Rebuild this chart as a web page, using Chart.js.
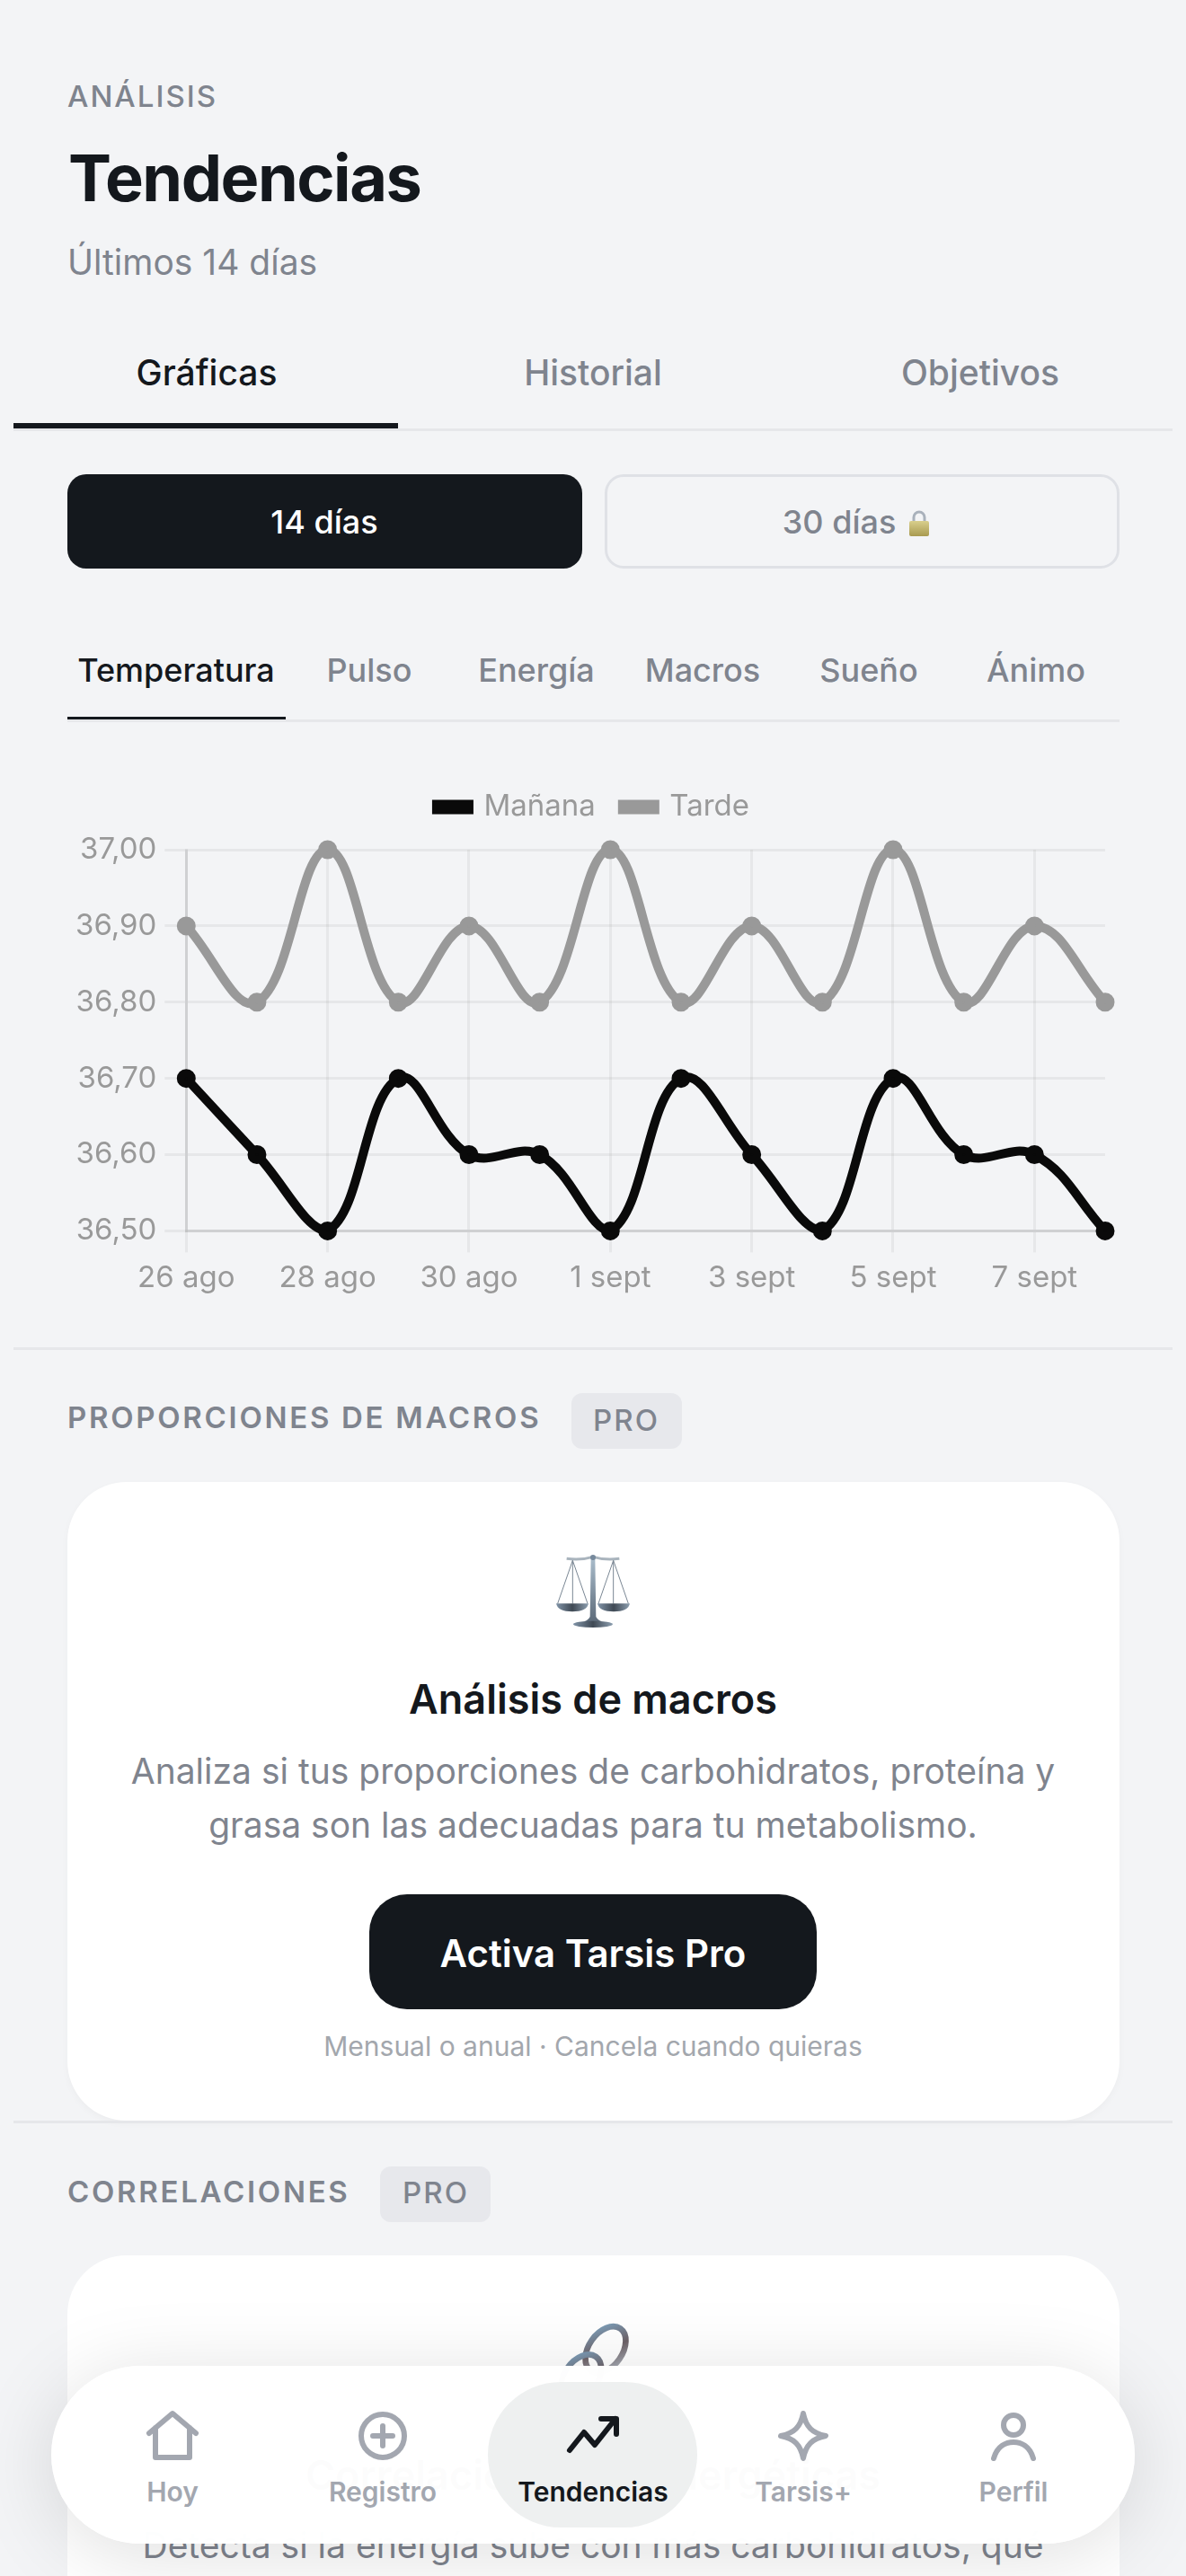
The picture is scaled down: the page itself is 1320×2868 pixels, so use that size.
<!DOCTYPE html>
<html lang="es">
<head>
<meta charset="utf-8">
<title>Tendencias</title>
<script src="https://cdn.jsdelivr.net/npm/chart.js@4"></script>
<style>
html, body { margin: 0; padding: 0; }
body { width: 1320px; height: 2868px; position: relative; overflow: hidden; background: #f3f4f6; font-family: Inter, sans-serif; color: #14181d; }
.t { position: absolute; white-space: nowrap; transform: translateY(-50%); line-height: 1.2; }
.c { transform: translate(-50%, -50%); }
.box { position: absolute; }
.line { position: absolute; background: #e6e7ea; }
.gray { color: #7f848e; }
svg { position: absolute; overflow: visible; }
.nav-label { font-size: 30px; font-weight: 600; color: #a3a7b0; }
</style>
</head>
<body>

<div class="t gray" style="left:75px;top:108px;font-size:33px;font-weight:500;letter-spacing:2px">ANÁLISIS</div>
<div class="t" style="left:76px;top:198px;font-size:72px;font-weight:700;letter-spacing:-1.5px">Tendencias</div>
<div class="t gray" style="left:75px;top:292px;font-size:39px">Últimos 14 días</div>

<div class="t c" style="left:230px;top:415px;font-size:39px;font-weight:500">Gráficas</div>
<div class="t c gray" style="left:660px;top:415px;font-size:39px;font-weight:500">Historial</div>
<div class="t c gray" style="left:1091px;top:415px;font-size:39px;font-weight:500">Objetivos</div>
<div class="line" style="left:15px;top:477px;width:1290px;height:3px"></div>
<div class="box" style="left:15px;top:471px;width:428px;height:6px;background:#14181d"></div>

<div class="box" style="left:75px;top:528px;width:573px;height:105px;border-radius:21px;background:#14181d"></div>
<div class="t c" style="left:361px;top:582px;font-size:36px;font-weight:500;color:#fff">14 días</div>
<div class="box" style="left:673px;top:528px;width:573px;height:105px;box-sizing:border-box;border:3px solid #dfe1e6;border-radius:21px"></div>
<div class="t c gray" style="left:934px;top:582px;font-size:36px;font-weight:500">30 días</div>
<svg style="left:1011px;top:567px" width="24" height="32" viewBox="0 0 24 32">
  <defs><linearGradient id="lk" x1="0" y1="0" x2="0" y2="1"><stop offset="0" stop-color="#d9cf8c"/><stop offset="1" stop-color="#a89a50"/></linearGradient></defs>
  <path d="M6 14V9a6 6 0 0 1 12 0v5" fill="none" stroke="#a9b1bb" stroke-width="3"/>
  <rect x="1" y="13" width="22" height="17" rx="2" fill="url(#lk)"/>
</svg>

<div class="t c" style="left:196px;top:747px;font-size:36px;font-weight:500">Temperatura</div>
<div class="t c gray" style="left:411px;top:747px;font-size:36px;font-weight:500">Pulso</div>
<div class="t c gray" style="left:597px;top:747px;font-size:36px;font-weight:500">Energía</div>
<div class="t c gray" style="left:782px;top:747px;font-size:36px;font-weight:500">Macros</div>
<div class="t c gray" style="left:967px;top:747px;font-size:36px;font-weight:500">Sueño</div>
<div class="t c gray" style="left:1153px;top:747px;font-size:36px;font-weight:500">Ánimo</div>
<div class="line" style="left:75px;top:801px;width:1171px;height:3px"></div>
<div class="box" style="left:75px;top:798px;width:243px;height:3px;background:#14181d"></div>

<canvas id="chart" width="1170" height="609" style="position:absolute;left:75px;top:852px"></canvas>

<div class="line" style="left:15px;top:1500px;width:1290px;height:3px"></div>

<div class="t gray" style="left:75px;top:1579px;font-size:33px;font-weight:600;letter-spacing:2.7px">PROPORCIONES DE MACROS</div>
<div class="box" style="left:636px;top:1551px;width:123px;height:62px;border-radius:12px;background:#e7e8ec"></div>
<div class="t c gray" style="left:697px;top:1582px;font-size:33px;font-weight:500;letter-spacing:2px">PRO</div>

<div class="box" style="left:75px;top:1650px;width:1171px;height:711px;border-radius:66px;background:#fff;box-shadow:0 3px 9px rgba(0,0,0,.03)"></div>
<svg style="left:560px;top:1700px" width="200" height="120" viewBox="0 0 600 360">
  <defs>
    <linearGradient id="st" x1="0" y1="0" x2="0" y2="1"><stop offset="0" stop-color="#a9bccb"/><stop offset="1" stop-color="#5d6b7a"/></linearGradient>
    <linearGradient id="pn" x1="0" y1="0" x2="1" y2="0"><stop offset="0" stop-color="#8194a8"/><stop offset=".5" stop-color="#3f4954"/><stop offset="1" stop-color="#8d9fb0"/></linearGradient>
  </defs>
  <path d="M212 106 Q260 112 300 100 Q340 112 388 106" fill="none" stroke="#a9b4bd" stroke-width="9"/>
  <path d="M232 112 L182 256 M232 112 L282 256 M232 112V256 M368 112 L318 256 M368 112 L418 256 M368 112V256" fill="none" stroke="#7a8794" stroke-width="3"/>
  <path d="M293 106 H307 L310 300 Q316 312 330 316 H270 Q284 312 290 300Z" fill="url(#st)"/>
  <circle cx="300" cy="102" r="9" fill="#76899c"/>
  <path d="M177 256 H285 Q280 283 231 283 Q182 283 177 256Z" fill="url(#pn)"/>
  <path d="M315 256 H423 Q418 283 369 283 Q320 283 315 256Z" fill="url(#pn)"/>
  <ellipse cx="300" cy="325" rx="66" ry="11" fill="url(#pn)"/>
</svg>
<div class="t c" style="left:660px;top:1892px;font-size:45px;font-weight:600">Análisis de macros</div>
<div class="t c gray" style="left:660px;top:1972px;font-size:39px">Analiza si tus proporciones de carbohidratos, proteína y</div>
<div class="t c gray" style="left:660px;top:2032px;font-size:39px">grasa son las adecuadas para tu metabolismo.</div>
<div class="box" style="left:411px;top:2109px;width:498px;height:128px;border-radius:42px;background:#14181d"></div>
<div class="t c" style="left:660px;top:2175px;font-size:42px;font-weight:600;color:#fff">Activa Tarsis Pro</div>
<div class="t c" style="left:660px;top:2278px;font-size:30px;color:#a3a7ad">Mensual o anual · Cancela cuando quieras</div>

<div class="line" style="left:15px;top:2361px;width:1290px;height:3px"></div>

<div class="t gray" style="left:75px;top:2441px;font-size:33px;font-weight:600;letter-spacing:2.7px">CORRELACIONES</div>
<div class="box" style="left:423px;top:2412px;width:123px;height:62px;border-radius:12px;background:#e7e8ec"></div>
<div class="t c gray" style="left:485px;top:2442px;font-size:33px;font-weight:500;letter-spacing:2px">PRO</div>

<div class="box" style="left:75px;top:2511px;width:1171px;height:500px;border-radius:66px;background:#fff"></div>
<svg style="left:580px;top:2560px" width="180" height="120" viewBox="0 0 540 360">
  <defs><linearGradient id="lnk" x1="0" y1="0" x2="1" y2="1"><stop offset="0" stop-color="#7fa6c4"/><stop offset=".5" stop-color="#6d6166"/><stop offset="1" stop-color="#b8c2cc"/></linearGradient></defs>
  <ellipse cx="282" cy="168" rx="56" ry="86" transform="rotate(35 282 168)" fill="none" stroke="url(#lnk)" stroke-width="20"/>
  <ellipse cx="200" cy="262" rx="56" ry="86" transform="rotate(35 200 262)" fill="none" stroke="url(#lnk)" stroke-width="20"/>
</svg>
<div class="t c" style="left:660px;top:2756px;font-size:45px;font-weight:600">Correlaciones bioenergéticas</div>
<div class="t c gray" style="left:660px;top:2834px;font-size:39px">Detecta si la energía sube con más carbohidratos, qué</div>

<div class="box" style="left:57px;top:2634px;width:1206px;height:198px;border-radius:99px;background:rgba(255,255,255,.99);box-shadow:0 12px 90px rgba(0,0,0,.13)"></div>
<div class="box" style="left:543px;top:2652px;width:233px;height:162px;border-radius:81px;background:rgba(238,240,240,.985)"></div>

<svg style="left:156px;top:2676px" width="72" height="72" viewBox="-36 -36 72 72" fill="none" stroke="#a3a7b0" stroke-width="6" stroke-linecap="round" stroke-linejoin="round">
  <path d="M-26 -3 L0 -25 L26 -3 M-19 -9 V24 H19 V-9"/>
</svg>
<svg style="left:390px;top:2676px" width="72" height="72" viewBox="-36 -36 72 72" fill="none" stroke="#a3a7b0" stroke-width="6" stroke-linecap="round">
  <circle r="24"/><path d="M-11 0H11M0 -11V11"/>
</svg>
<svg style="left:624px;top:2676px" width="72" height="72" viewBox="-36 -36 72 72" fill="none" stroke="#14181d" stroke-width="6" stroke-linecap="round" stroke-linejoin="round">
  <path d="M-26 16 L-10 -4 L2 10 L25 -19 M9 -19 H26 V-2"/>
</svg>
<svg style="left:858px;top:2676px" width="72" height="72" viewBox="-36 -36 72 72" fill="none" stroke="#a3a7b0" stroke-width="6" stroke-linejoin="round">
  <path d="M0 -25 C3 -10 10 -3 25 0 C10 3 3 10 0 25 C-3 10 -10 3 -25 0 C-10 -3 -3 -10 0 -25Z"/>
</svg>
<svg style="left:1092px;top:2676px" width="72" height="72" viewBox="-36 -36 72 72" fill="none" stroke="#a3a7b0" stroke-width="6" stroke-linecap="round">
  <circle cy="-12" r="11"/><path d="M-22 25 C-18 11 -8 7 0 7 C8 7 18 11 22 25"/>
</svg>
<div class="t c nav-label" style="left:192px;top:2774px">Hoy</div>
<div class="t c nav-label" style="left:426px;top:2774px">Registro</div>
<div class="t c nav-label" style="left:660px;top:2774px;color:#14181d">Tendencias</div>
<div class="t c nav-label" style="left:894px;top:2774px">Tarsis+</div>
<div class="t c nav-label" style="left:1128px;top:2774px">Perfil</div>

<script>
var days = ['26 ago', '27 ago', '28 ago', '29 ago', '30 ago', '31 ago', '1 sept', '2 sept', '3 sept', '4 sept', '5 sept', '6 sept', '7 sept', '8 sept'];
var manana = [36.7, 36.6, 36.5, 36.7, 36.6, 36.6, 36.5, 36.7, 36.6, 36.5, 36.7, 36.6, 36.6, 36.5];
var tarde = [36.9, 36.8, 37.0, 36.8, 36.9, 36.8, 37.0, 36.8, 36.9, 36.8, 37.0, 36.8, 36.9, 36.8];

var tickFont = { family: 'Inter', size: 33 };
var ctx = document.getElementById('chart').getContext('2d');

function serie(label, data, color) {
    return {
        label: label,
        data: data,
        borderColor: color,
        backgroundColor: color,
        borderWidth: 10,
        tension: 0.4,
        clip: false,
        pointRadius: 6,
        pointBorderWidth: 9,
        pointBackgroundColor: color,
        pointBorderColor: color
    };
}

// more room between legend and plot
var legendGap = {
    id: 'legendGap',
    beforeInit: function (chart) {
        var fit = chart.legend.fit;
        chart.legend.fit = function () {
            fit.bind(chart.legend)();
            this.height += 21;
        };
    }
};

new Chart(ctx, {
    type: 'line',
    plugins: [legendGap],
    data: {
        labels: days,
        datasets: [serie('Mañana', manana, '#0a0a0a'), serie('Tarde', tarde, '#999999')]
    },
    options: {
        responsive: false,
        animation: false,
        devicePixelRatio: 1,
        layout: { padding: { bottom: 9 } },
        plugins: {
            legend: {
                labels: { boxWidth: 36, boxHeight: 6, color: '#999999', font: tickFont, padding: 30 }
            },
            tooltip: { enabled: false }
        },
        scales: {
            x: {
                grid: { color: 'rgba(0,0,0,0.05)', lineWidth: 3, tickLength: 24, tickColor: 'rgba(0,0,0,0.05)' },
                border: { color: 'rgba(0,0,0,0.1)', width: 3 },
                ticks: { color: '#999999', font: tickFont, padding: 9, maxRotation: 0, maxTicksLimit: 7 }
            },
            y: {
                min: 36.5,
                max: 37,
                grid: { color: 'rgba(0,0,0,0.05)', lineWidth: 3, tickLength: 24, tickColor: 'rgba(0,0,0,0.05)' },
                border: { color: 'rgba(0,0,0,0.1)', width: 3 },
                ticks: {
                    color: '#999999',
                    font: tickFont,
                    padding: 9,
                    stepSize: 0.1,
                    callback: function (value) {
                        return value.toFixed(2).replace('.', ',');
                    }
                }
            }
        }
    }
});
</script>
</body>
</html>
